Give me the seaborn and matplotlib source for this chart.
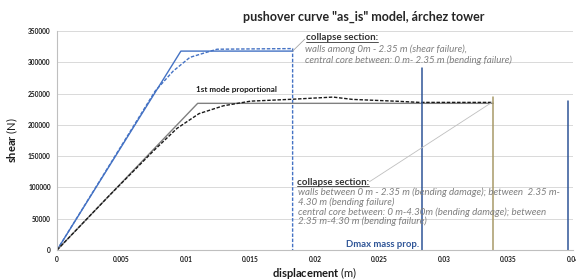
import numpy as np
import pandas as pd
import matplotlib
matplotlib.use("Agg")
import matplotlib.pyplot as plt
import seaborn as sns
from matplotlib.ticker import MultipleLocator
from matplotlib.lines import Line2D

# ------------------------------------------
# data
# ------------------------------------------

# bilinear (solid) curves
mass_x = [0.0, 0.0096, 0.01826]
mass_y = [0, 318000, 318000]

mode_x = [0.0, 0.0109, 0.0338]
mode_y = [0, 234500, 234500]

# pushover (dashed) curves
mass_push_x = [0.0, 0.0076, 0.0090, 0.0103, 0.0119, 0.0124, 0.0150, 0.01826, 0.01826]
mass_push_y = [0, 254000, 286000, 308000, 318000, 321000, 321500, 322000, 0]

mode_push_x = [0.0, 0.0040, 0.0075, 0.0093, 0.0110, 0.0129, 0.0150, 0.0182,
               0.0200, 0.0214, 0.0229, 0.0266, 0.0281, 0.0338]
mode_push_y = [0, 86000, 159000, 194500, 218000, 230600, 238000, 241000,
               243000, 244500, 240800, 237600, 236000, 236000]

# vertical markers
dmax_mass_x = [0.0283, 0.0283]
dmax_mass_y = [0, 291000]
olive_x = [0.0338, 0.0338]
olive_y = [0, 244000]
edge_x = [0.0396, 0.0396]
edge_y = [0, 238000]

title = 'pushover curve "as_is" model, árchez tower'
top_note = ["walls among 0m - 2.35 m (shear failure),",
            "central core between: 0 m- 2.35 m (bending failure)"]
bottom_note = ["walls between 0 m - 2.35 m (bending damage); between  2.35 m-",
               "4.30 m (bending failure)",
               "central core between: 0 m-4.30m (bending damage); between",
               "2.35 m-4.30 m (bending failure)"]

# ------------------------------------------
# style
# ------------------------------------------

sns.set_style("white")
plt.rcParams['font.family'] = ['Lato', 'DejaVu Sans']
plt.rcParams['mathtext.fontset'] = 'custom'
plt.rcParams['mathtext.rm'] = 'Lato'
plt.rcParams['mathtext.bf'] = 'Lato:bold'

BLUE = '#4472c4'
DARK_BLUE = '#2f5597'
GRAY = '#808080'
OLIVE = '#a89a68'
NOTE = '#7f7f7f'

fig = plt.figure(figsize=(5.76, 2.8), dpi=100)
ax = fig.add_axes([0.099, 0.107, 0.896, 0.782])

# ------------------------------------------
# curves
# ------------------------------------------

sns.lineplot(x=mass_x, y=mass_y, color=BLUE, lw=1.0, ax=ax,
             estimator=None, sort=False)
sns.lineplot(x=mass_push_x, y=mass_push_y, color=BLUE, lw=1.0, ax=ax,
             estimator=None, sort=False, linestyle=(0, (2.5, 1.2)))
sns.lineplot(x=mode_x, y=mode_y, color=GRAY, lw=1.0, ax=ax,
             estimator=None, sort=False)
sns.lineplot(x=mode_push_x, y=mode_push_y, color='#1a1a1a', lw=1.0, ax=ax,
             estimator=None, sort=False, linestyle=(0, (2.5, 1.2)))

sns.lineplot(x=dmax_mass_x, y=dmax_mass_y, color=DARK_BLUE, lw=1.1, ax=ax,
             estimator=None, sort=False)
sns.lineplot(x=olive_x, y=olive_y, color=OLIVE, lw=1.1, ax=ax,
             estimator=None, sort=False)
sns.lineplot(x=edge_x, y=edge_y, color=DARK_BLUE, lw=1.1, ax=ax,
             estimator=None, sort=False)

# ------------------------------------------
# axes
# ------------------------------------------

ax.set_xlim(0, 0.04)
ax.set_ylim(0, 350000)
ax.xaxis.set_minor_locator(MultipleLocator(0.001))
ax.yaxis.set_major_locator(MultipleLocator(50000))
ax.yaxis.set_minor_locator(MultipleLocator(10000))
ax.set_xticks(np.arange(0, 0.0401, 0.005))
ax.set_xticklabels(['0', '0.005', '0.01', '0.015', '0.02', '0.025',
                    '0.03', '0.035', '0.04'])
ax.yaxis.grid(True, color='#d9d9d9', lw=0.7)
ax.set_axisbelow(True)

for s in ['top', 'right']:
    ax.spines[s].set_visible(False)
for s in ['left', 'bottom']:
    ax.spines[s].set_color('#bfbfbf')
    ax.spines[s].set_linewidth(0.8)

ax.tick_params(which='major', direction='inout', length=5, width=0.7,
               color='#bfbfbf', labelsize=4.8, labelcolor='#1a1a1a', pad=2)
ax.tick_params(which='minor', direction='inout', length=3, width=0.6,
               color='#bfbfbf')
for lab in ax.get_xticklabels() + ax.get_yticklabels():
    lab.set_fontweight('bold')

ax.set_xlabel(r"$\bf{displacement}$ (m)", fontsize=8, labelpad=1, color='#1a1a1a')
ax.set_ylabel(r"$\bf{shear}$ (N)", fontsize=8, labelpad=6, color='#1a1a1a')

fig.text(364 / 576, 1 - 17 / 280, title, ha='center', va='center',
         fontsize=9, fontweight='bold', color='#262626')

# ------------------------------------------
# annotations
# ------------------------------------------

def underlined(x, y, text):
    t = ax.text(x, y, text, fontsize=7, fontweight='bold', color='#333333',
                ha='left', va='center')
    fig.canvas.draw()
    bb = t.get_window_extent().transformed(fig.transFigure.inverted())
    fig.add_artist(Line2D([bb.x0, bb.x1], [bb.y0 + 0.002, bb.y0 + 0.002],
                          transform=fig.transFigure, color='#333333', lw=0.6))

underlined(0.0193, 339000, "collapse section:")
for i, line in enumerate(top_note):
    ax.text(0.01925, 321500 - i * 17500, line, fontsize=7, style='italic',
            color=NOTE, ha='left', va='center')
ax.plot([0.01826, 0.0192], [318000, 337000], color='#a6a6a6', lw=0.6)

underlined(0.0186, 108000, "collapse section:")
for i, line in enumerate(bottom_note):
    ax.text(0.01865, 92000 - i * 15500, line, fontsize=7, style='italic',
            color=NOTE, ha='left', va='center')
ax.plot([0.0242, 0.0337], [109000, 236000], color='#bfbfbf', lw=0.6)

ax.text(0.0108, 257000, "1st mode proportional", fontsize=5.9,
        fontweight='bold', color='#1a1a1a', ha='left', va='center')
ax.text(0.0281, 9500, "Dmax mass prop.", fontsize=6.8, fontweight='bold',
        color=DARK_BLUE, ha='right', va='center')

fig.savefig("out.png", dpi=100)
